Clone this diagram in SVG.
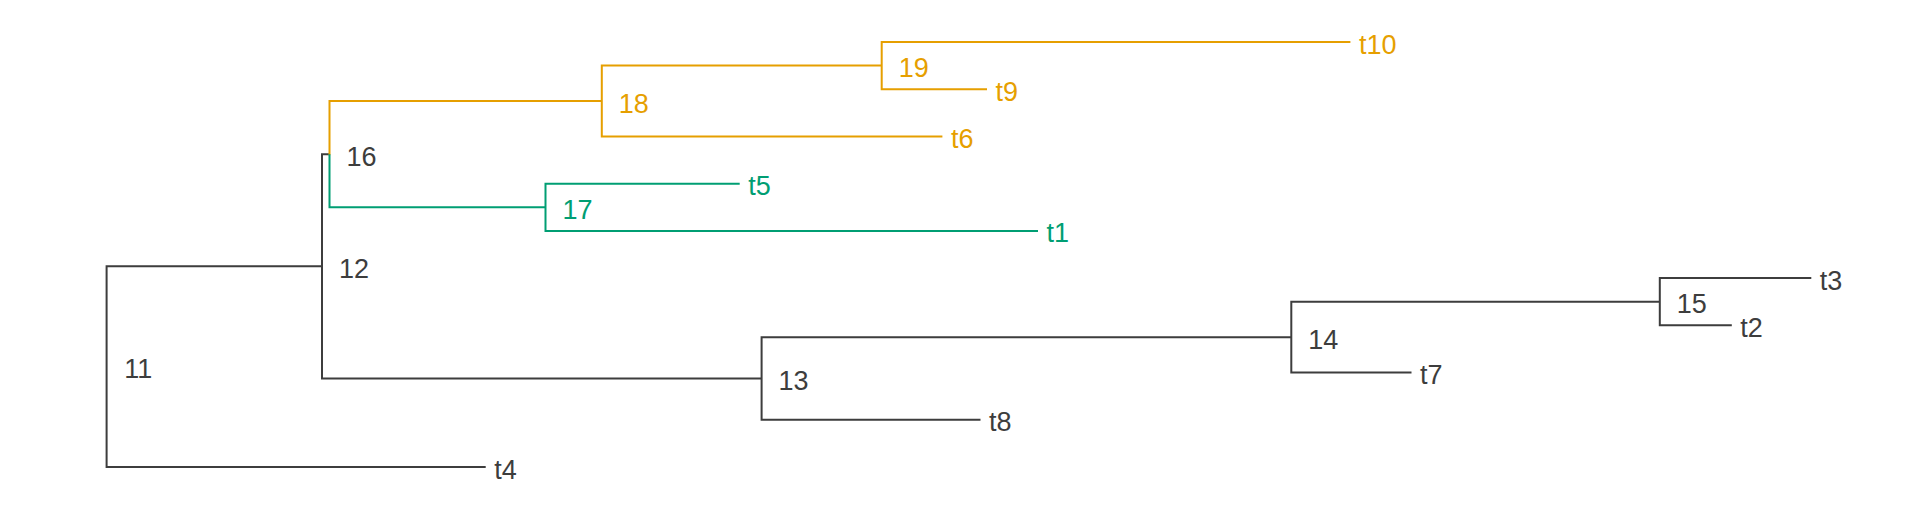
<svg xmlns="http://www.w3.org/2000/svg" width="1920" height="518" viewBox="0 0 1920 518">
<style>
.e{fill:none;stroke-width:2;stroke-linecap:butt;stroke-linejoin:miter}
.d{stroke:#3d3d3d}.o{stroke:#E69F00}.g{stroke:#009E73}
text{font-family:"Liberation Sans",Arial,sans-serif;font-size:27px}
.td{fill:#3d3d3d}.to{fill:#E69F00}.tg{fill:#009E73}
</style>
<rect width="1920" height="518" fill="#ffffff"/>
<g id="connectors">
<path class="e d" d="M322,266.3 H106.6 V467 H485.7"/>
<path class="e d" d="M329.5,154.2 H322 V378.5 H761.6"/>
<path class="e o" d="M329.5,155.2 V101 H601.8"/>
<path class="e g" d="M329.5,154.2 V207.3 H545.5"/>
<path class="e o" d="M881.7,65.6 H601.8 V136.4 H942.4"/>
<path class="e o" d="M1350.4,42 H881.7 V89.2 H987"/>
<path class="e g" d="M739.7,183.7 H545.5 V230.9 H1038"/>
<path class="e d" d="M1291.3,337.2 H761.6 V419.8 H980.5"/>
<path class="e d" d="M1659.8,301.7 H1291.3 V372.6 H1411.5"/>
<path class="e d" d="M1811.3,278.1 H1659.8 V325.3 H1731.8"/>
</g>
<g id="n11"><text class="td" x="124.3" y="378.2">11</text></g>
<g id="n12"><text class="td" x="339" y="277.8">12</text></g>
<g id="n13"><text class="td" x="778.6" y="390">13</text></g>
<g id="n14"><text class="td" x="1308.3" y="348.7">14</text></g>
<g id="n15"><text class="td" x="1676.8" y="313.2">15</text></g>
<g id="n16"><text class="td" x="346.5" y="165.7">16</text></g>
<g id="n17"><text class="tg" x="562.5" y="218.8">17</text></g>
<g id="n18"><text class="to" x="618.8" y="112.5">18</text></g>
<g id="n19"><text class="to" x="898.7" y="77.1">19</text></g>
<g id="t10"><text class="to" x="1358.9" y="53.5">t10</text></g>
<g id="t9"><text class="to" x="995.5" y="100.7">t9</text></g>
<g id="t6"><text class="to" x="950.9" y="147.9">t6</text></g>
<g id="t5"><text class="tg" x="748.2" y="195.2">t5</text></g>
<g id="t1"><text class="tg" x="1046.5" y="242.4">t1</text></g>
<g id="t3"><text class="td" x="1819.8" y="289.6">t3</text></g>
<g id="t2"><text class="td" x="1740.3" y="336.8">t2</text></g>
<g id="t7"><text class="td" x="1420" y="384.1">t7</text></g>
<g id="t8"><text class="td" x="989" y="431.3">t8</text></g>
<g id="t4"><text class="td" x="494.2" y="478.5">t4</text></g>
</svg>
